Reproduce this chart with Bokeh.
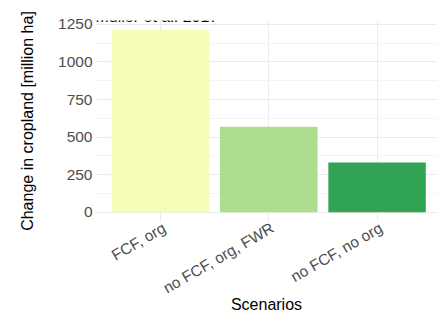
import math
from bokeh.plotting import figure
from bokeh.models import Range1d, FixedTicker, Label, ColumnDataSource
from bokeh.embed import file_html
from bokeh.resources import INLINE

# ---- data ----
scenarios = ["FCF, org", "no FCF, org, FWR", "no FCF, no org"]
cropland_change = [1215, 570, 331]
bar_colors = ["#F7FCB9", "#ADDD8E", "#31A354"]
y_ticks = [0, 250, 500, 750, 1000, 1250]
title_text = "Muller et al. 2017"
x_title = "Scenarios"
y_title = "Change in cropland [million ha]"

x_pos = list(range(1, len(scenarios) + 1))
label_pos = [x + 0.035 for x in x_pos]          # rotated labels end just right of the bar centre
y_minor = [(a + b) / 2 for a, b in zip(y_ticks, y_ticks[1:])]

src = ColumnDataSource(dict(x=x_pos, top=cropland_change, color=bar_colors, name=scenarios))

FONT = "Liberation Sans"

p = figure(width=437, height=315, output_backend="svg", toolbar_location=None,
           x_range=Range1d(0.4, 3.558), y_range=Range1d(-60.75, 1275.75),
           min_border_left=95, min_border_right=0, min_border_top=20, min_border_bottom=94)
p.outline_line_color = None
p.background_fill_color = "white"
p.border_fill_color = "white"

p.vbar(x="x", top="top", bottom=0, width=0.9, fill_color="color", line_color=None, source=src)

# axes
p.xaxis.ticker = FixedTicker(ticks=label_pos)
p.xaxis.major_label_overrides = {x: s for x, s in zip(label_pos, scenarios)}
p.xaxis.major_label_orientation = math.radians(30)
p.yaxis.ticker = FixedTicker(ticks=y_ticks, minor_ticks=y_minor)

for ax in (p.xaxis[0], p.yaxis[0]):
    ax.axis_line_color = None
    ax.major_tick_line_color = None
    ax.minor_tick_line_color = None
    ax.major_tick_out = 0
    ax.major_tick_in = 0
    ax.minor_tick_out = 0
    ax.major_label_text_font = FONT
    ax.major_label_text_font_size = "15.5px"
    ax.major_label_text_color = "#4D4D4D"
    ax.axis_label_text_font = FONT
    ax.axis_label_text_font_size = "16px"
    ax.axis_label_text_font_style = "normal"
    ax.axis_label_text_color = "#000000"

p.xaxis.axis_label = x_title
p.yaxis.axis_label = y_title
p.yaxis.major_label_standoff = 3
p.yaxis.axis_label_standoff = 19
p.xaxis.major_label_standoff = 5
p.xaxis.axis_label_standoff = -11

# grid
p.xgrid.ticker = FixedTicker(ticks=x_pos)
p.xgrid.grid_line_color = "#EBEBEB"
p.ygrid.grid_line_color = "#EBEBEB"
p.ygrid.minor_grid_line_color = "#F4F4F4"
p.xgrid.grid_line_width = 1
p.ygrid.grid_line_width = 1

# title, above the panel (cut by the top edge, as in the reference)
p.add_layout(Label(x=0, y=205.5, x_units="screen", y_units="screen", text=title_text,
                   text_font=FONT, text_font_size="16px", text_color="#000000",
                   text_baseline="alphabetic", text_align="left"))

open("out.html", "w").write(file_html(p, INLINE))
